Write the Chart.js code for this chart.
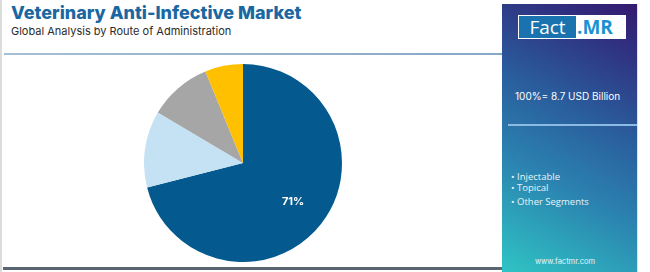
<!DOCTYPE html>
<html>
<head>
<meta charset="utf-8">
<script src="https://cdn.jsdelivr.net/npm/chart.js@4"></script>
<style>
  body { margin: 0; width: 650px; height: 272px; background: #fff; overflow: hidden; position: relative; font-family: "Inter", "Open Sans", sans-serif; }
  .abs { position: absolute; }
  #title { left: 11px; top: 2px; font-size: 18px; font-weight: 800; color: #1b67a1; white-space: nowrap; }
  #subtitle { left: 11px; top: 24px; font-size: 11px; color: #2b2b2b; white-space: nowrap; }
  #leftEdge { left: 0; top: 0; width: 2px; height: 272px; background: #dcdcdc; }
  #topLine { left: 4px; top: 53px; width: 498px; height: 2px; background: linear-gradient(90deg, #a4bfd6, #86a8c6); }
  #bottomLine { left: 3px; top: 267px; width: 500px; height: 3px; background: #5a6572; }
  #panel { left: 502px; top: 4px; width: 135px; height: 268px; background: linear-gradient(28deg, #2fc4c4 0%, #2b82b0 35%, #2a5c9c 60%, #2f3684 82%, #34196f 100%); }
  #panelEdge { left: 637px; top: 4px; width: 1px; height: 268px; background: #e4dcf2; }
  #logo { left: 518px; top: 15px; width: 108px; height: 24px; background: #fff; }
  #logoFact { left: 1px; top: 1px; width: 57px; height: 22px; background: #1a73ae; color: #fff; font-family: "Open Sans", sans-serif; font-size: 19px; line-height: 22px; text-align: center; }
  #logoMR { left: 59px; top: 0; color: #1a92d2; font-family: "Open Sans", sans-serif; font-weight: 700; font-size: 19px; line-height: 24px; }
  #total { left: 515px; top: 90px; color: #fff; font-size: 10px; white-space: nowrap; }
  #panelLine { left: 508px; top: 124px; width: 129px; height: 2px; background: #8bbbe2; }
  #legend { left: 511px; top: 171px; color: #e8f4f8; font-family: "Open Sans", sans-serif; font-size: 9.5px; line-height: 11px; }
  #legend div:last-child { margin-top: 3px; }
  #url { left: 502px; top: 257px; width: 126px; text-align: center; color: #e8f4f8; font-size: 7.5px; }
  #pieWrap { left: 144px; top: 64px; width: 198px; height: 198px; }
</style>
</head>
<body>
<div id="leftEdge" class="abs"></div>
<div id="title" class="abs">Veterinary Anti-Infective Market</div>
<div id="subtitle" class="abs">Global Analysis by Route of Administration</div>
<div id="topLine" class="abs"></div>
<div id="bottomLine" class="abs"></div>
<div id="panel" class="abs"></div>
<div id="panelEdge" class="abs"></div>
<div id="logo" class="abs"><div id="logoFact" class="abs">Fact</div><div id="logoMR" class="abs">.MR</div></div>
<div id="total" class="abs">100%= 8.7 USD Billion</div>
<div id="panelLine" class="abs"></div>
<div id="legend" class="abs"></div>
<div id="url" class="abs">www.factmr.com</div>
<div id="pieWrap" class="abs"><canvas id="pie"></canvas></div>

<script>
// Slices, clockwise from 12 o'clock
const categories = ['Injectable', 'Topical', 'Other Segments', 'Others'];
const shares = [71, 12.5, 10.3, 6.2];
const sliceColors = ['#045a8f', '#c4e2f4', '#a6a6a6', '#ffc000'];
const legendItems = ['Injectable', 'Topical', 'Other Segments'];
const shownLabels = ['71%', '', '', ''];

// legend in the side panel
const legendEl = document.getElementById('legend');
legendItems.forEach(name => {
    const d = document.createElement('div');
    d.textContent = '\u2022 ' + name;
    legendEl.appendChild(d);
});

// draw the percent text inside the big slice
const sliceLabels = {
    id: 'sliceLabels',
    afterDatasetsDraw(chart) {
        const ctx = chart.ctx;
        const meta = chart.getDatasetMeta(0);
        meta.data.forEach((arc, i) => {
            if (!shownLabels[i]) return;
            const p = arc.getProps(['x', 'y', 'startAngle', 'endAngle', 'outerRadius']);
            const mid = (p.startAngle + p.endAngle) / 2;
            const r = p.outerRadius * 0.64;
            ctx.save();
            ctx.fillStyle = '#fff';
            ctx.font = 'bold 11px Inter, sans-serif';
            ctx.textAlign = 'center';
            ctx.textBaseline = 'middle';
            ctx.fillText(shownLabels[i], p.x + Math.cos(mid) * r, p.y + Math.sin(mid) * r);
            ctx.restore();
        });
    }
};

new Chart(document.getElementById('pie'), {
    type: 'pie',
    data: {
        labels: categories,
        datasets: [{
            data: shares,
            backgroundColor: sliceColors,
            borderWidth: 0
        }]
    },
    options: {
        responsive: true,
        maintainAspectRatio: false,
        animation: false,
        layout: { padding: 0 },
        plugins: {
            legend: { display: false },
            tooltip: { enabled: false }
        }
    },
    plugins: [sliceLabels]
});
</script>
</body>
</html>
